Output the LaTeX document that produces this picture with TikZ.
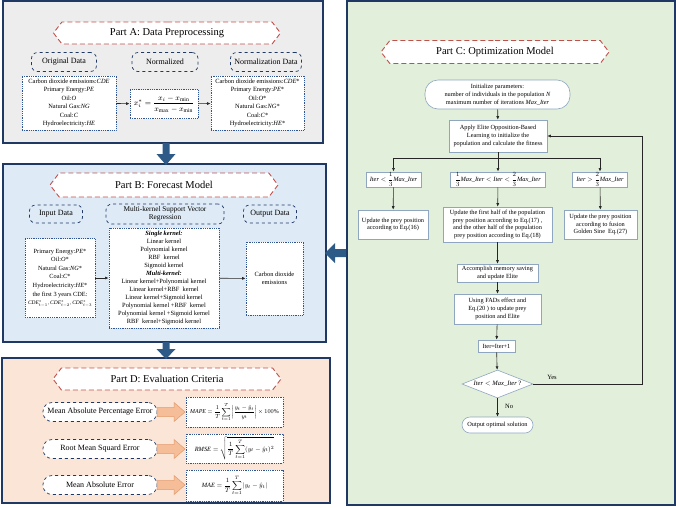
\documentclass[tikz,border=0pt]{standalone}
\usepackage{amsmath}
\usepackage{graphicx}
\usepackage{fontspec}
\setmainfont{Liberation Serif}
\usetikzlibrary{shapes.symbols,shapes.geometric,arrows.meta}
\definecolor{navy}{HTML}{1F3864}
\definecolor{dotblue}{HTML}{2F5597}
\definecolor{bannerred}{HTML}{C0504D}
\definecolor{bgA}{HTML}{EDEDED}
\definecolor{bgB}{HTML}{DEEBF7}
\definecolor{bgC}{HTML}{E2EFDA}
\definecolor{bgD}{HTML}{FBE5D6}
\definecolor{bigblue}{HTML}{2E5A88}
\definecolor{orfill}{HTML}{F6BE98}
\definecolor{ordraw}{HTML}{E39A6A}
\definecolor{cbox}{HTML}{8EA6C0}
\newcommand{\sm}[2]{\scalebox{#1}{\fontsize{8}{9}\selectfont #2}}
\tikzset{
  panel/.style={draw=navy, line width=1.1pt},
  banner/.style={signal, signal to=west and east, signal pointer angle=105,
    draw=bannerred, fill=white, line width=0.9pt, dash pattern=on 5pt off 3pt,
    inner sep=0pt, font=\fontsize{10.5}{12}\selectfont},
  lbl/.style={draw=navy, dashed, line width=0.7pt, rounded corners=6pt,
    minimum height=19pt, inner sep=1pt, align=center,
    font=\fontsize{8}{9}\selectfont},
  pill/.style={draw=navy, dashed, line width=0.7pt, rounded corners=9pt, fill=white,
    minimum width=114pt, minimum height=19pt, inner sep=1pt,
    font=\fontsize{8}{9}\selectfont},
  dbox/.style={draw=dotblue, densely dotted, line width=0.8pt, fill=white,
    align=center, inner sep=1pt, font=\fontsize{6.4}{8.5}\selectfont},
  bbox/.style={dbox, font=\fontsize{6.4}{8}\selectfont},
  cb/.style={draw=cbox, line width=0.6pt, fill=white, align=center, inner sep=1pt,
    font=\fontsize{6.3}{7.8}\selectfont},
  conn/.style={draw=black!85, line width=0.6pt, -{Latex[length=3.5pt,width=3pt]}},
  line/.style={draw=black!85, line width=0.6pt},
  bigarrow/.style={fill=bigblue},
  orarrow/.style={fill=orfill, draw=ordraw, line width=0.5pt},
}
\begin{document}
\begin{tikzpicture}[x=1pt,y=-1pt]
\useasboundingbox (0,0) rectangle (676,507);
% panels
\draw[panel, fill=bgA] (3,1) rectangle (323,143);
\draw[panel, fill=bgB] (3,164) rectangle (326,342);
\draw[panel, fill=bgD] (2,358) rectangle (330,503);
\draw[panel, fill=bgC] (347,1) rectangle (675,505);
% big arrows
\fill[bigarrow] (162.5,143) -- (169.5,143) -- (169.5,154) -- (175.5,154) -- (166,165) -- (156.5,154) -- (162.5,154) -- cycle;
\fill[bigarrow] (162.5,342) -- (169.5,342) -- (169.5,349) -- (175.5,349) -- (166,359) -- (156.5,349) -- (162.5,349) -- cycle;
\fill[bigarrow] (346,249) -- (335,249) -- (335,243) -- (325,253) -- (335,263) -- (335,257) -- (346,257) -- cycle;

% ---------------- Part A
\node[banner, minimum width=227pt, minimum height=22pt] (tA) at (167,33) {Part A: Data Preprocessing};
\node[lbl, minimum width=65pt] (oA) at (64,62) {Original Data};
\node[lbl, minimum width=66pt] (nA) at (165,62) {Normalized};
\node[lbl, minimum width=71pt] (ndA) at (266,62) {Normalization Data};
\node[dbox, minimum width=94pt, minimum height=54pt] (dA1) at (69,103)
  {Carbon dioxide emissions:\textit{CDE}\\Primary Energy:\textit{PE}\\Oil:\textit{O}\\Natural Gas:\textit{NG}\\Coal:\textit{C}\\Hydroelectricity:\textit{HE}};
\node[dbox, minimum width=68pt, minimum height=29pt] (fA) at (164,104)
  {\sm{0.95}{$x_i^{*}=\dfrac{x_i-x_{\min}}{x_{\max}-x_{\min}}$}};
\node[dbox, minimum width=93pt, minimum height=54pt] (dA2) at (257.5,103)
  {Carbon dioxide emissions:\textit{CDE}*\\Primary Energy:\textit{PE}*\\Oil:\textit{O}*\\Natural Gas:\textit{NG}*\\Coal:\textit{C}*\\Hydroelectricity:\textit{HE}*};
\draw[conn] (dA1) -- (fA);
\draw[conn] (fA) -- (dA2);

% ---------------- Part B
\node[banner, minimum width=228pt, minimum height=24pt] (tB) at (164,185) {Part B: Forecast Model};
\node[lbl, minimum width=53pt, minimum height=18pt] (iB) at (56,214) {Input Data};
\node[lbl, minimum width=118pt, minimum height=20pt, font=\fontsize{7.3}{8.2}\selectfont] (mB) at (165,214) {Multi-kernel Support Vector\\Regression};
\node[lbl, minimum width=53pt, minimum height=18pt] (oB) at (270,214) {Output Data};
\node[bbox, minimum width=70pt, minimum height=79pt, font=\fontsize{6.3}{8.6}\selectfont] (inB) at (60,278)
  {Primary Energy:\textit{PE}*\\Oil:\textit{O}*\\Natural Gas:\textit{NG}*\\Coal:\textit{C}*\\Hydroelectricity:\textit{HE}*\\the first 3 years CDE:\\\sm{0.68}{$\mathit{CDE}^{*}_{t-1},\mathit{CDE}^{*}_{t-2},\mathit{CDE}^{*}_{t-3}$}};
\node[bbox, minimum width=110pt, minimum height=100pt] (kB) at (164,278)
  {\textbf{\textit{Single kernel:}}\\Linear kernel\\Polynomial kernel\\RBF\ \ kernel\\Sigmoid kernel\\\textbf{\textit{Multi-kernel:}}\\Linear kernel+Polynomial kernel\\Linear kernel+RBF\ \ kernel\\Linear kernel+Sigmoid kernel\\Polynomial kernel +RBF\ \ kernel\\Polynomial kernel +Sigmoid kernel\\RBF\ \ kernel+Sigmoid kernel};
\node[bbox, minimum width=57pt, minimum height=73pt] (ouB) at (274.5,278.5) {Carbon dioxide\\emissions};
\draw[conn] (inB) -- (kB);
\draw[conn] (kB) -- (ouB);

% ---------------- Part D
\node[banner, minimum width=228pt, minimum height=22pt] (tD) at (167,379) {Part D: Evaluation Criteria};
\node[pill] (p1) at (100,412) {Mean Absolute Percentage Error};
\node[pill] (p2) at (100,449) {Root Mean Squard Error};
\node[pill] (p3) at (100,485) {Mean Absolute Error};
\node[dbox, minimum width=97pt, minimum height=30pt] (f1) at (234.5,412)
  {\sm{0.74}{$\displaystyle \mathit{MAPE}=\frac{1}{T}\sum_{t=1}^{T}\left|\frac{y_t-\hat{y}_t}{y_t}\right|\times 100\%$}};
\node[dbox, minimum width=97pt, minimum height=29pt] (f2) at (234.5,448.5)
  {\sm{0.8}{$\displaystyle \mathit{RMSE}=\sqrt{\frac{1}{T}\sum_{t=1}^{T}(y_t-\hat{y}_t)^2}$}};
\node[dbox, minimum width=97pt, minimum height=31pt] (f3) at (234.5,485.5)
  {\sm{0.8}{$\displaystyle \mathit{MAE}=\frac{1}{T}\sum_{t=1}^{T}|y_t-\hat{y}_t|$}};
\foreach \cy in {412,449,485}{
  \draw[orarrow] (157,\cy-4.5) -- (174,\cy-4.5) -- (174,\cy-9.5) -- (185,\cy) -- (174,\cy+9.5) -- (174,\cy+4.5) -- (157,\cy+4.5) -- cycle;
}

% ---------------- Part C
\node[banner, minimum width=228pt, minimum height=23pt] (tC) at (495,52) {Part C: Optimization Model};
\node[cb, rounded corners=13pt, minimum width=145pt, minimum height=29pt] (init) at (497.5,94.5)
  {Initialize parameters:\\number of individuals in the population \textit{N}\\maximum number of iterations \textit{Max\_Iter}};
\node[cb, minimum width=98pt, minimum height=32pt] (apply) at (498,136)
  {Apply Elite Opposition-Based\\Learning to initialize the\\population and calculate the fitness};
\node[cb, minimum width=55pt, minimum height=15pt] (c1) at (393.5,179.5)
  {\sm{0.8}{$\mathit{Iter}<\dfrac{1}{3}\mathit{Max\_Iter}$}};
\node[cb, minimum width=95pt, minimum height=15pt] (c2) at (498,179.5)
  {\sm{0.8}{$\dfrac{1}{3}\mathit{Max\_Iter}<\mathit{Iter}<\dfrac{2}{3}\mathit{Max\_Iter}$}};
\node[cb, minimum width=55pt, minimum height=15pt] (c3) at (600,179.5)
  {\sm{0.8}{$\mathit{Iter}>\dfrac{2}{3}\mathit{Max\_Iter}$}};
\node[cb, minimum width=70pt, minimum height=29pt] (u1) at (393,224.5)
  {Update the prey position\\according to Eq.(16)};
\node[cb, minimum width=109pt, minimum height=35pt] (u2) at (497.5,224.5)
  {Update the first half of the population\\prey position according to Eq.(17) ,\\and the other half of the population\\prey position according to Eq.(18)};
\node[cb, minimum width=73pt, minimum height=29pt] (u3) at (600.5,224.5)
  {Update the prey position\\according to fusion\\Golden Sine\ \ Eq.(27)};
\node[cb, minimum width=81pt, minimum height=18pt] (acc) at (497.5,273)
  {Accomplish memory saving\\and update Elite};
\node[cb, minimum width=87pt, minimum height=30pt] (fad) at (497.5,309)
  {Using FADs effect and\\Eq.(20 ) to update prey\\position and Elite};
\node[cb, minimum width=37pt, minimum height=12pt] (inc) at (496.5,346) {Iter=Iter+1};
\node[cb, diamond, aspect=2.5, minimum width=71pt, minimum height=28pt, inner sep=0pt] (dec) at (497.5,384)
  {\sm{0.82}{$\mathit{Iter}<\mathit{Max\_Iter}$ ?}};
\node[cb, rounded corners=8pt, minimum width=71pt, minimum height=16pt] (out) at (497.5,425)
  {Output optimal solution};
\coordinate (split) at (498,158);
\coordinate (sl) at (393.5,158);
\coordinate (sr) at (600,158);
\coordinate (lr) at (642,384);
\coordinate (lt) at (642,136);
\draw[conn] (init) -- (apply);
\draw[line] (apply) -- (split);
\draw[line] (sl) -- (sr);
\draw[conn] (sl) -- (c1);
\draw[conn] (split) -- (c2);
\draw[conn] (sr) -- (c3);
\draw[conn] (c1) -- (u1);
\draw[conn] (c2) -- (u2);
\draw[conn] (c3) -- (u3);
\draw[conn] (u2) -- (acc);
\draw[conn] (acc) -- (fad);
\draw[conn] (fad) -- (inc);
\draw[conn] (inc) -- (dec);
\draw[conn] (dec) -- (out) node[pos=0.45, right=4pt, font=\fontsize{6.5}{8}\selectfont] {No};
\draw[conn] (dec.east) -- (lr) -- (lt) -- (apply.east);
\node[font=\fontsize{6.5}{8}\selectfont] (yes) at (552,377) {Yes};
\end{tikzpicture}
\end{document}
